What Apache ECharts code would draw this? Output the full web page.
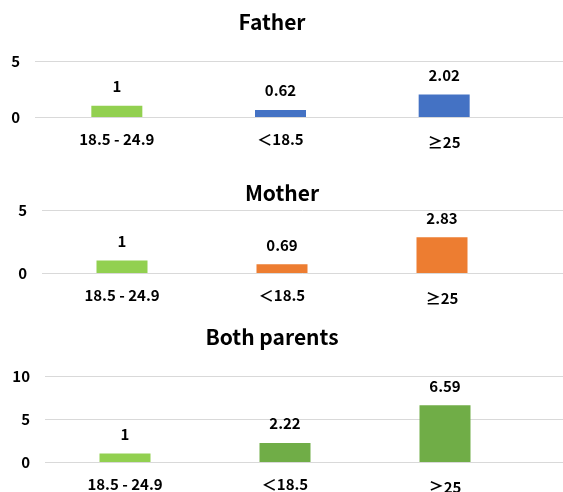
<!DOCTYPE html>
<html>
<head>
<meta charset="utf-8">
<script src="https://cdn.jsdelivr.net/npm/echarts@6/dist/echarts.min.js"></script>
<style>
  html, body { margin: 0; padding: 0; background: #fff; }
  #chart { width: 563px; height: 492px; }
</style>
</head>
<body>
<div id="chart"></div>
<script>
const categories = ['18.5 - 24.9', '＜18.5', '≥25'];
const panelTitles = ['Father', 'Mother', 'Both parents'];
const fatherValues = [1, 0.62, 2.02];
const motherValues = [1, 0.69, 2.83];
const bothValues = [1, 2.22, 6.59];
const yMaxes = [5, 5, 10];

const FONT = '"Noto Sans CJK JP", "Noto Sans", sans-serif';
const refColor = '#92D050';
const panelColors = ['#4472C4', '#ED7D31', '#70AD47'];

// pixel layout of each panel (plot box)
const boxes = [
  { left: 35, width: 491, top: 61, height: 56, titleX: 272, titleY: 22 },
  { left: 42, width: 480, top: 210, height: 63, titleX: 282, titleY: 193 },
  { left: 45, width: 480, top: 376, height: 86, titleX: 272, titleY: 337 }
];
const allValues = [fatherValues, motherValues, bothValues];

const grid = [], xAxis = [], yAxis = [], series = [], graphic = [];

boxes.forEach((b, i) => {
  // background grid: only gridlines + y labels, runs to the right edge
  grid.push({ left: b.left, right: 0, top: b.top, height: b.height, outerBoundsMode: 'none' });
  // data grid
  grid.push({ left: b.left, width: b.width, top: b.top, height: b.height, outerBoundsMode: 'none' });

  xAxis.push({ gridIndex: 2 * i, type: 'value', min: 0, max: 1, show: false });
  yAxis.push({
    gridIndex: 2 * i, type: 'value', min: 0, max: yMaxes[i], interval: 5,
    axisLine: { show: false }, axisTick: { show: false },
    splitLine: { lineStyle: { color: '#D9D9D9', width: 1 } },
    axisLabel: { margin: 15, color: '#000', fontFamily: FONT, fontWeight: 'bold', fontSize: 15 }
  });

  xAxis.push({
    gridIndex: 2 * i + 1, type: 'category', data: categories,
    axisLine: { show: false }, axisTick: { show: false },
    axisLabel: {
      margin: 15, color: '#000', fontFamily: FONT, fontWeight: 'bold', fontSize: 15,
      formatter: v => v.startsWith('≥') ? '{g|' + v + '}' : v,
      rich: { g: { padding: [3, 0, 0, 0], fontFamily: FONT, fontWeight: 'bold', fontSize: 15, color: '#000' } }
    }
  });
  yAxis.push({ gridIndex: 2 * i + 1, type: 'value', min: 0, max: yMaxes[i], interval: 5, show: false });

  series.push({
    type: 'bar',
    xAxisIndex: 2 * i + 1,
    yAxisIndex: 2 * i + 1,
    barWidth: 51,
    data: allValues[i].map((v, k) => ({
      value: v,
      itemStyle: { color: k === 0 ? refColor : panelColors[i] }
    })),
    label: {
      show: true, position: 'top', distance: 12,
      color: '#000', fontFamily: FONT, fontWeight: 'bold', fontSize: 15
    },
    silent: true
  });

  graphic.push({
    type: 'text', x: b.titleX, y: b.titleY,
    style: {
      text: panelTitles[i], align: 'center', verticalAlign: 'middle',
      fill: '#000', font: 'bold 21px ' + FONT
    }
  });
});

const chart = echarts.init(document.getElementById('chart'), null, { renderer: 'canvas' });
chart.setOption({
  animation: false,
  backgroundColor: '#fff',
  grid, xAxis, yAxis, series, graphic
});
</script>
</body>
</html>
